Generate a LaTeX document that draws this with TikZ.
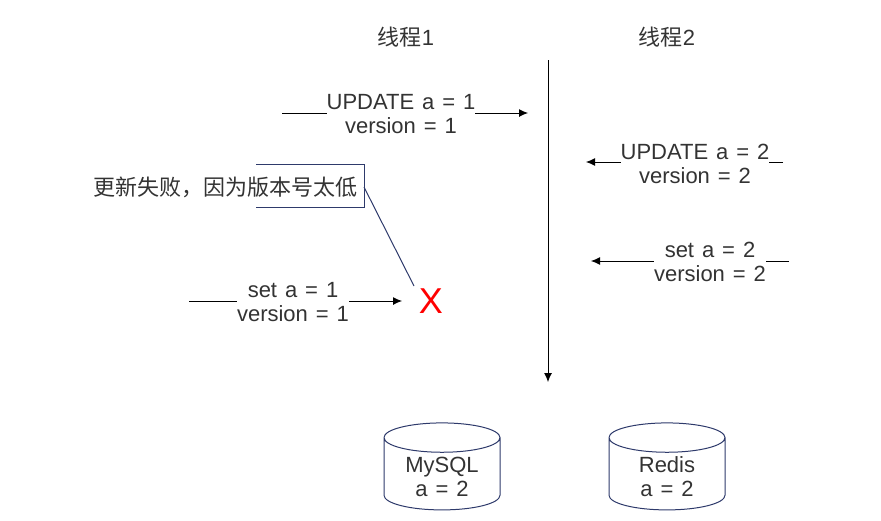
\documentclass[tikz,border=0pt]{standalone}
\usepackage{fontspec}
\setmainfont[WordSpace=1.3]{Liberation Sans}
\newfontfamily\cjk{Noto Sans CJK SC}
\usetikzlibrary{shapes.geometric, arrows.meta}
\definecolor{ink}{HTML}{333333}
\definecolor{navy}{HTML}{2E3A6B}
\newcommand{\storebody}{\phantom{MySQL}\\\phantom{a = 2}}
\begin{document}
\begin{tikzpicture}[->, >={Latex[length=9pt,width=8pt]}, x=1pt, y=-1pt, line width=0.9pt, font=\fontsize{22}{24}\selectfont, text=ink]
        \tikzstyle{msg} = [align=center, fill=white, inner sep=0pt]
        \tikzstyle{store} = [cylinder, shape border rotate=90, draw=navy, line width=1pt, aspect=0.4, minimum width=116pt, minimum height=87pt, inner sep=0pt, align=center]
        \tikzstyle{storetext} = [align=center, inner sep=0pt, yshift=-3pt]
        \useasboundingbox (0,0) rectangle (881,520);
        \node (t1) at (406,37) {{\cjk 线程}1};
        \node (t2) at (667,37) {{\cjk 线程}2};

        \coordinate (top) at (548,60);
        \coordinate (bottom) at (548,382);
        \coordinate (u1s) at (282,113);
        \coordinate (u1e) at (528,113);
        \coordinate (u2s) at (783,162);
        \coordinate (u2e) at (586,162);
        \coordinate (s2s) at (789,261);
        \coordinate (s2e) at (591,261);
        \coordinate (s1s) at (189,301);
        \coordinate (s1e) at (402,301);
        \coordinate (tip) at (414,286);
        \coordinate (boxa) at (256,164);
        \coordinate (boxb) at (364,164);
        \coordinate (boxc) at (364,207);
        \coordinate (boxd) at (256,207);
        \coordinate (boxm) at (364,187);
        \path[color=black]
                (top) edge (bottom)
                (u1s) edge (u1e)
                (u2s) edge (u2e)
                (s2s) edge (s2e)
                (s1s) edge (s1e);
        \draw[-, draw=navy, line width=1pt] (boxa) -- (boxb) -- (boxc) -- (boxd);
        \draw[-, draw=navy, line width=1pt] (boxm) -- (tip);

        \node[msg] (u1) at (401,114) {UPDATE a = 1\\version = 1};
        \node[msg] (u2) at (695,164) {UPDATE a = 2\\version = 2};
        \node[msg] (s2) at (710,262) {set a = 2\\version = 2};
        \node[msg] (s1) at (293,302) {set a = 1\\version = 1};
        \node[inner sep=0pt] (fail) at (225,187) {\cjk 更新失败，因为版本号太低};
        \node[inner sep=0pt, text=red, font=\fontsize{36}{36}\selectfont] (cross) at (431,301) {X};
        \node[store, label={[storetext]center:MySQL\\a = 2}] (mysql) at (442,474) {\storebody};
        \node[store, label={[storetext]center:Redis\\a = 2}] (redis) at (667,474) {\storebody};
\end{tikzpicture}
\end{document}
